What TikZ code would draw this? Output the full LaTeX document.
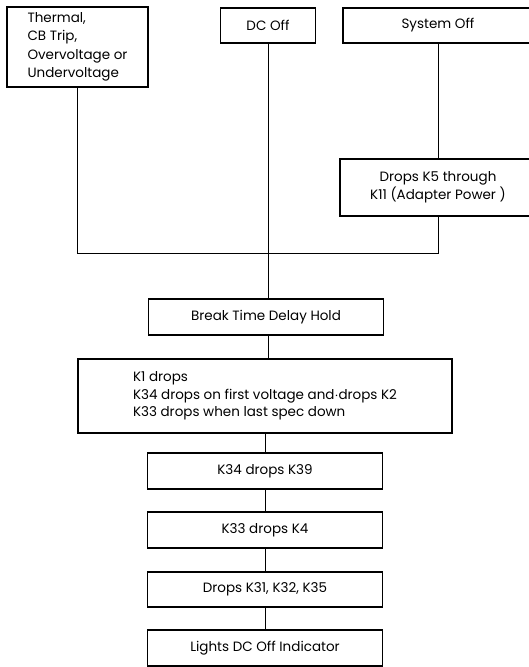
\documentclass[tikz,border=0pt]{standalone}
\usepackage{fontspec}
\setmainfont{Poppins}
\begin{document}
\begin{tikzpicture}[x=1pt,y=-1pt,
  box/.style={draw, line width=1.2pt, inner sep=0pt, align=center,
    font=\fontsize{13.5}{18.5}\selectfont},
  lbox/.style={box, align=left},
  wire/.style={line width=0.9pt}]
\useasboundingbox (0,0) rectangle (529,667);
\begin{scope}
\clip (0,0) rectangle (529,667);
% top row
\node[lbox, minimum width=141pt, minimum height=80pt] (therm) at (77.5,47) {Thermal,\\CB Trip,\\Overvoltage or\\Undervoltage};
\node[box, minimum width=95pt, minimum height=35pt] (dcoff) at (268,25.5) {DC Off};
\node[box, minimum width=190pt, minimum height=35pt] (sysoff) at (438,25.5) {System Off};
\node[box, minimum width=196pt, minimum height=57pt] (k5) at (438,187.5) {Drops K5 through\\K11 (Adapter Power )};
% chain
\node[box, minimum width=235pt, minimum height=36pt] (brk) at (266,317) {Break Time Delay Hold};
\node[lbox, minimum width=374pt, minimum height=74pt, font=\fontsize{13.5}{17.7}\selectfont] (k1) at (265,396) {K1 drops\\K34 drops on first voltage and$\cdot$drops K2\\K33 drops when last spec down};
\node[box, minimum width=235pt, minimum height=36pt] (k34) at (265,471) {K34 drops K39};
\node[box, minimum width=235pt, minimum height=36pt] (k33) at (265,530) {K33 drops K4};
\node[box, minimum width=235pt, minimum height=35pt] (k31) at (265,589.5) {Drops K31, K32, K35};
\node[box, minimum width=235pt, minimum height=36pt] (lights) at (265,648) {Lights DC Off Indicator};
\end{scope}
% junction
\coordinate (jl) at (77.5,253);
\coordinate (jr) at (438,253);
\draw[wire] (therm.south) -- (jl) -- (jr) -- (k5.south);
\draw[wire] (sysoff.south) -- (k5.north);
\draw[wire] (dcoff.south) -- (dcoff.south |- brk.north);
\draw[wire] (brk.south -| dcoff.south) -- (k1.north -| dcoff.south);
\draw[wire] (k1.south) -- (k34.north);
\draw[wire] (k34) -- (k33);
\draw[wire] (k33) -- (k31);
\draw[wire] (k31) -- (lights);
\end{tikzpicture}
\end{document}
